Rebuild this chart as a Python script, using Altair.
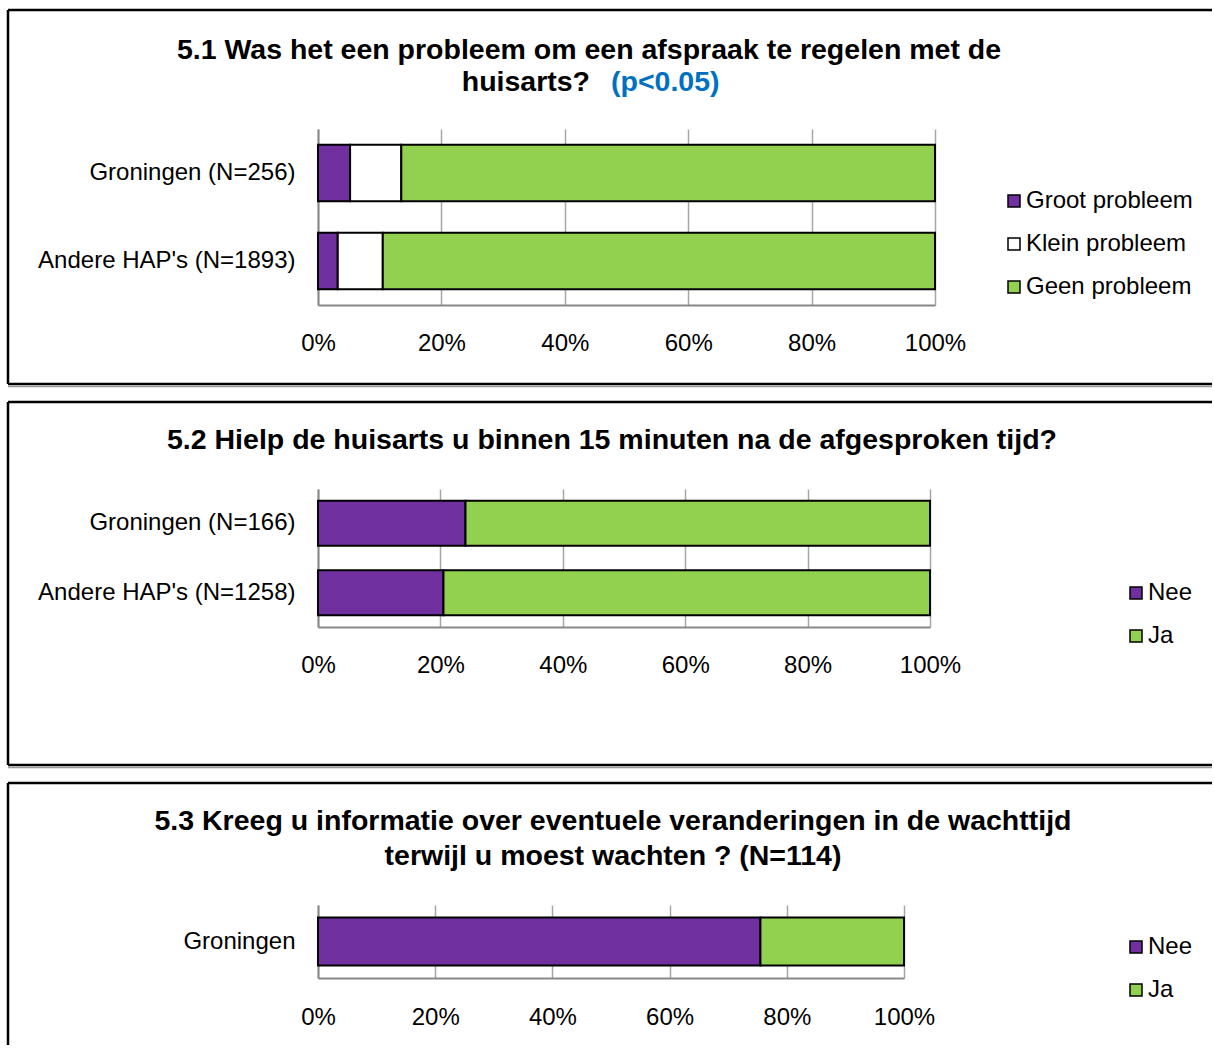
import altair as alt
import pandas as pd

# ---------------- data ----------------
cats1 = ["Groningen (N=256)", "Andere HAP's (N=1893)"]
resp1 = ["Groot probleem", "Klein probleem", "Geen probleem"]
groot1 = [5.2, 3.2]
klein1 = [8.3, 7.3]
geen1 = [86.5, 89.5]
colors1 = ["#7030A0", "#FFFFFF", "#92D050"]

cats2 = ["Groningen (N=166)", "Andere HAP's (N=1258)"]
resp2 = ["Nee", "Ja"]
nee2 = [24.1, 20.5]
ja2 = [75.9, 79.5]

cats3 = ["Groningen"]
resp3 = ["Nee", "Ja"]
nee3 = [75.5]
ja3 = [24.5]
colors23 = ["#7030A0", "#92D050"]

tick_values = [0, 20, 40, 60, 80, 100]

title1 = ["5.1 Was het een probleem om een afspraak te regelen met de", "huisarts?", "(p<0.05)"]
title2 = ["5.2 Hielp de huisarts u binnen 15 minuten na de afgesproken tijd?"]
title3 = ["5.3 Kreeg u informatie over eventuele veranderingen in de wachttijd",
          "terwijl u moest wachten ? (N=114)"]

FONT = "Liberation Sans"
TSIZE = 28.5


def long_df(cats, resp, series):
    rows = []
    for ci, c in enumerate(cats):
        for ri, r in enumerate(resp):
            rows.append({"cat": c, "resp": r, "val": series[ri][ci], "ord": ri})
    return pd.DataFrame(rows)


def one():
    return alt.Data(values=[{"k": 0}])


def text_layer(txt, x, y, align="center", color="black"):
    return alt.Chart(one()).mark_text(
        text=txt, align=align, baseline="alphabetic", font=FONT,
        fontSize=TSIZE, fontWeight="bold", color=color
    ).encode(x=alt.value(x), y=alt.value(y))


def hrule(x1, x2, y, w=2.5, color="black"):
    return alt.Chart(one()).mark_rule(color=color, strokeWidth=w).encode(
        x=alt.value(x1), x2=alt.value(x2), y=alt.value(y))


def vrule(x, y1, y2, w=2.5, color="black"):
    return alt.Chart(one()).mark_rule(color=color, strokeWidth=w).encode(
        x=alt.value(x), y=alt.value(y1), y2=alt.value(y2))


def bars(df, cats, resp, colors, w, h, lx, ly, pin, pout, lpad):
    return alt.Chart(df).mark_bar(stroke="black", strokeWidth=2).encode(
        y=alt.Y("cat:N", sort=cats, title=None,
                scale=alt.Scale(paddingInner=pin, paddingOuter=pout),
                axis=alt.Axis(ticks=False, labelPadding=23, labelLimit=500,
                              domainColor="#888888", domainWidth=2)),
        x=alt.X("val:Q", stack="zero", title=None,
                scale=alt.Scale(domain=[0, 100], nice=False),
                axis=alt.Axis(values=tick_values, labelExpr="datum.value + '%'",
                              grid=True, ticks=False, labelPadding=lpad,
                              domainColor="#888888", domainWidth=2,
                              labelFlush=False)),
        color=alt.Color("resp:N", sort=resp,
                        scale=alt.Scale(domain=resp, range=colors),
                        legend=alt.Legend(title=None, orient="none",
                                          legendX=lx, legendY=ly,
                                          labelLimit=400)),
        order=alt.Order("ord:Q"),
    ).properties(width=w, height=h)


L = -310   # left border, relative to plot origin
R = 894    # right end of top/bottom borders

# Panel 1
df1 = long_df(cats1, resp1, [groot1, klein1, geen1])
p1 = alt.layer(
    bars(df1, cats1, resp1, colors1, 617, 176, 684, 60, 0.36, 0.18, 26),
    text_layer(title1[0], 271, -70),
    text_layer(title1[1], 272, -38, align="right"),
    text_layer(title1[2], 293, -38, align="left", color="#0070C0"),
    vrule(L, -119, 255),
    hrule(L, R, -119),
    hrule(L, R, 255),
    hrule(L, R, 257.5, w=1.5, color="#9a9a9a"),
)

# Panel 2
df2 = long_df(cats2, resp2, [nee2, ja2])
p2 = alt.layer(
    bars(df2, cats2, resp2, colors23, 612, 138, 806, 92, 0.35, 0.17, 26),
    text_layer(title2[0], 294, -40),
    vrule(L, -87, 276),
    hrule(L, R, -87),
    hrule(L, R, 276),
    hrule(L, R, 278.5, w=1.5, color="#9a9a9a"),
)

# Panel 3
df3 = long_df(cats3, resp3, [nee3, ja3])
p3 = alt.layer(
    bars(df3, cats3, resp3, colors23, 586, 73, 806, 30, 0.35, 0.17, 27),
    text_layer(title3[0], 295, -75),
    text_layer(title3[1], 295, -40),
    vrule(L, -122, 140),
    hrule(L, R, -122),
)

chart = alt.vconcat(p1, p2, p3, spacing=12).resolve_scale(
    color="independent"
).resolve_legend(
    color="independent"
).properties(
    padding={"left": 6, "top": 8, "right": 0, "bottom": 0},
    background="white",
).configure_view(stroke=None).configure_axis(
    labelFont=FONT, labelFontSize=24, labelColor="black",
    gridColor="#A6A6A6", gridWidth=1.5,
).configure_legend(
    labelFont=FONT, labelFontSize=24, labelColor="black",
    symbolType="square", symbolSize=144, symbolStrokeColor="black",
    symbolStrokeWidth=1.5, rowPadding=19, labelOffset=0, padding=0,
    symbolOpacity=1, labelLimit=400,
)

chart.save("out.html", embed_options={"renderer": "svg", "actions": False})
